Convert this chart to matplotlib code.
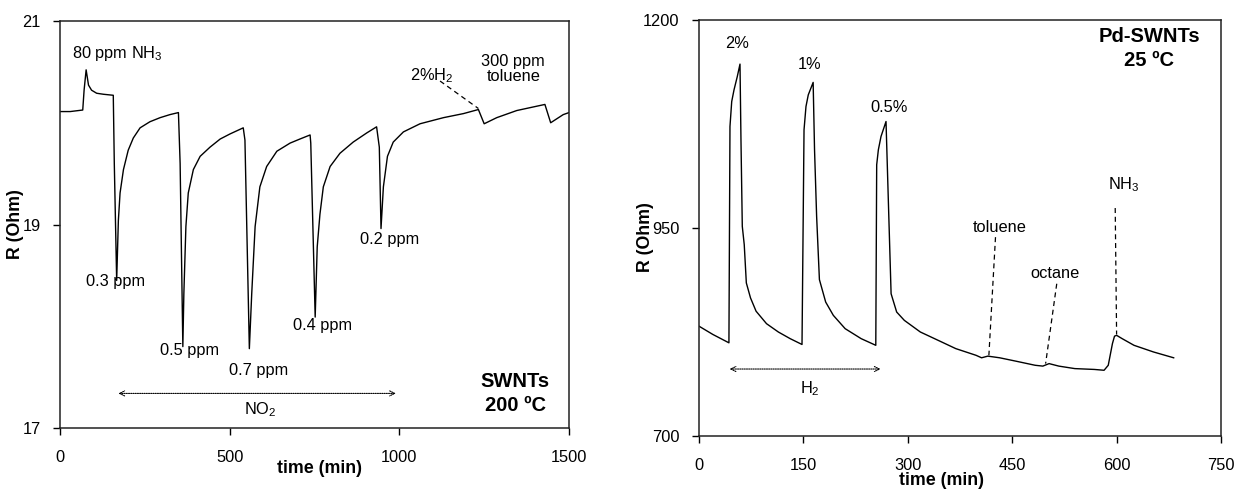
import matplotlib
matplotlib.use("Agg")
import matplotlib.pyplot as plt

plt.rcParams['font.family'] = ['Liberation Sans', 'DejaVu Sans']
plt.rcParams['mathtext.fontset'] = 'custom'
plt.rcParams['mathtext.rm'] = 'Liberation Sans'
plt.rcParams['mathtext.it'] = 'Liberation Sans:italic'
plt.rcParams['mathtext.bf'] = 'Liberation Sans:bold'

# ---------------- data: left panel (SWNTs, 200 C) ----------------
t_swnt = [0, 30, 67, 71, 77, 84, 93, 108, 128, 157,
          160, 167, 172, 177, 187, 201, 216, 236, 265, 295, 324, 349,
          354, 362, 365, 371, 378, 393, 413, 442, 472, 501, 540,
          545, 558, 565, 575, 589, 609, 639, 678, 707, 737,
          739, 752, 758, 766, 776, 796, 825, 864, 904, 933,
          941, 946, 953, 965, 982, 1012, 1061, 1130, 1189, 1233,
          1250, 1287, 1346, 1429, 1446, 1483, 1500]
r_swnt = [20.11, 20.11, 20.125, 20.32, 20.52, 20.37, 20.32, 20.29, 20.28, 20.27,
          19.60, 18.45, 19.04, 19.31, 19.54, 19.73, 19.85, 19.95, 20.01, 20.05, 20.08, 20.10,
          19.60, 17.80, 18.32, 18.98, 19.31, 19.54, 19.67, 19.76, 19.84, 19.89, 19.95,
          19.83, 17.78, 18.32, 18.98, 19.37, 19.57, 19.72, 19.80, 19.84, 19.88,
          19.80, 18.09, 18.78, 19.10, 19.37, 19.57, 19.70, 19.81, 19.90, 19.96,
          19.76, 18.96, 19.37, 19.67, 19.81, 19.91, 19.99, 20.05, 20.09, 20.13,
          19.99, 20.05, 20.12, 20.18, 20.00, 20.08, 20.10]

# ---------------- data: right panel (Pd-SWNTs, 25 C) ----------------
t_pd = [0, 20, 43, 44.5, 47, 50.3, 55, 58.9, 60.3, 62.2, 65, 68, 74, 82, 97, 114, 131, 148,
        150.9, 153.7, 157, 164, 166, 169, 173, 182, 193, 210, 233, 254,
        255.3, 257.7, 261.5, 268.7, 272, 276, 284, 295, 318, 341, 369, 398, 406,
        415, 432, 455, 483, 494, 503, 517, 540, 568, 582, 588, 594, 597, 600,
        608, 625, 653, 682]
r_pd = [832, 822, 812, 1072, 1102, 1116, 1132, 1147, 1056, 952, 930, 884, 866, 850, 835, 825, 817, 810,
        1068, 1096, 1110, 1125, 1044, 964, 888, 861, 845, 829, 817, 809,
        1026, 1044, 1060, 1078, 984, 871, 849, 839, 825, 816, 805, 797, 794,
        796, 794, 790, 785, 784, 787, 784, 781, 780, 779, 785, 811, 820, 821,
        817, 809, 801, 794]

# ---------------- axis settings ----------------
left_xlim, left_ylim = (0, 1500), (17, 21)
left_xticks, left_yticks = [0, 500, 1000, 1500], [17, 19, 21]
right_xlim, right_ylim = (0, 750), (700, 1200)
right_xticks, right_yticks = [0, 150, 300, 450, 600, 750], [700, 950, 1200]

# labels: (text, t, R)
left_labels = [("80 ppm NH$_3$", 35, 20.68, 'left'),
               ("0.3 ppm", 165, 18.44, 'center'),
               ("0.5 ppm", 383, 17.76, 'center'),
               ("0.7 ppm", 585, 17.57, 'center'),
               ("0.4 ppm", 775, 18.01, 'center'),
               ("0.2 ppm", 970, 18.85, 'center'),
               ("NO$_2$", 589, 17.18, 'center'),
               ("2%H$_2$", 1095, 20.46, 'center'),
               ("300 ppm\ntoluene", 1336, 20.53, 'center')]
left_bold = ("SWNTs\n200 ºC", 1341, 17.34)
left_arrow = ((172, 17.34), (990, 17.34))
left_dashes = [((1120, 20.41), (1233, 20.14))]

right_labels = [("2%", 54, 1172), ("1%", 159, 1147), ("0.5%", 273, 1095),
                ("NH$_3$", 611, 1002), ("toluene", 432, 951), ("octane", 511, 895),
                ("H$_2$", 159, 757)]
right_bold = ("Pd-SWNTs\n25 ºC", 647, 1166)
right_arrow = ((44, 780.5), (261, 780.5))
right_dashes = [((598, 974), (600, 822)), ((426, 939), (416.5, 797)), ((514, 883), (498, 787))]

fig = plt.figure(figsize=(12.4, 4.98), dpi=100)
axL = fig.add_axes([0.04839, 0.14056, 0.41048, 0.81727])
axR = fig.add_axes([0.56371, 0.12450, 0.42097, 0.83534])

FS = 11.8


def style(ax, xlim, ylim, xt, yt):
    ax.set_xlim(*xlim)
    ax.set_ylim(*ylim)
    ax.set_xticks(xt)
    ax.set_yticks(yt)
    ax.tick_params(direction='out', length=5, width=1, labelsize=FS, color='black')
    ax.tick_params(axis='x', pad=11)
    ax.tick_params(axis='y', pad=9)
    for s in ax.spines.values():
        s.set_linewidth(1.1)
        s.set_color('#222222')


def dashed(ax, segs):
    for (x0, y0), (x1, y1) in segs:
        ax.plot([x0, x1], [y0, y1], color='black', lw=0.9, ls=(0, (4, 3)))


def dotted_arrow(ax, p0, p1):
    ax.annotate('', xy=p1, xytext=p0,
                arrowprops=dict(arrowstyle='<->', color='black', lw=0.8,
                                linestyle=(0, (1, 1)), shrinkA=0, shrinkB=0,
                                mutation_scale=9))


# left panel
axL.plot(t_swnt, r_swnt, color='black', lw=1.0)
style(axL, left_xlim, left_ylim, left_xticks, left_yticks)
for txt, x, y, ha in left_labels:
    axL.text(x, y, txt, ha=ha, va='center', fontsize=FS, linespacing=1.05)
axL.text(left_bold[1], left_bold[2], left_bold[0], ha='center', va='center',
         fontsize=14.5, fontweight='bold', linespacing=1.3)
dotted_arrow(axL, *left_arrow)
dashed(axL, left_dashes)
axL.set_xlabel('time (min)', fontsize=12.8, fontweight='bold')
axL.xaxis.set_label_coords(0.509, -0.1)
axL.xaxis.label.set_va('center')
axL.set_ylabel('R (Ohm)', fontsize=12.8, fontweight='bold')
axL.yaxis.set_label_coords(-0.088, 0.5)
axL.yaxis.label.set_va('center')

# right panel
axR.plot(t_pd, r_pd, color='black', lw=1.0)
style(axR, right_xlim, right_ylim, right_xticks, right_yticks)
for txt, x, y in right_labels:
    axR.text(x, y, txt, ha='center', va='center', fontsize=FS)
axR.text(right_bold[1], right_bold[2], right_bold[0], ha='center', va='center',
         fontsize=14.5, fontweight='bold', linespacing=1.3)
dotted_arrow(axR, *right_arrow)
dashed(axR, right_dashes)
axR.set_xlabel('time (min)', fontsize=12.8, fontweight='bold')
axR.xaxis.set_label_coords(0.464, -0.108)
axR.xaxis.label.set_va('center')
axR.set_ylabel('R (Ohm)', fontsize=12.8, fontweight='bold')
axR.yaxis.set_label_coords(-0.102, 0.478)
axR.yaxis.label.set_va('center')

fig.savefig('out.png', dpi=100)
